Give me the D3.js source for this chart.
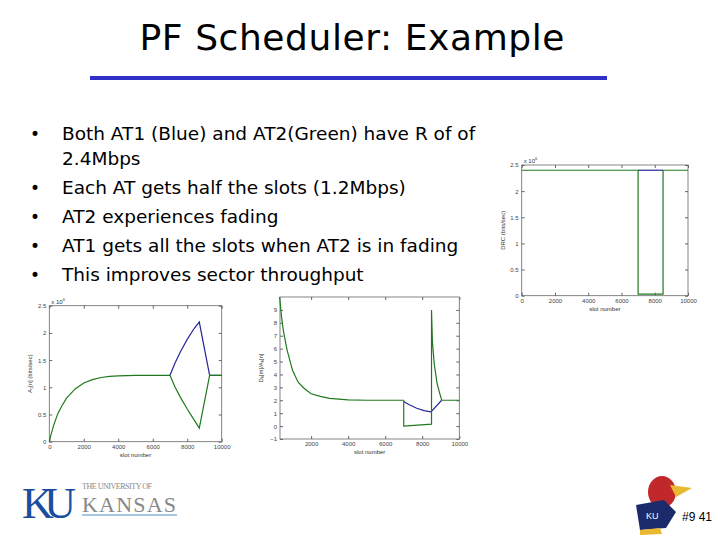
<!DOCTYPE html>
<html><head><meta charset="utf-8">
<script src="https://cdn.jsdelivr.net/npm/d3@7"></script>
<style>body{margin:0;background:#fff}svg{display:block}</style>
</head><body>
<svg id="slide" width="720" height="540"></svg>
<script>
// slide text
const bullets = [
  ["Both AT1 (Blue) and AT2(Green) have R of of", "2.4Mbps"],
  ["Each AT gets half the slots (1.2Mbps)"],
  ["AT2 experiences fading"],
  ["AT1 gets all the slots when AT2 is in fading"],
  ["This improves sector throughput"]
];
const xTicks = [0, 2000, 4000, 6000, 8000, 10000];

// plot 1: DRC (x10^6)
const drcGreen = [[0,2.4],[7000,2.4],[7000,0.03],[8500,0.03],[8500,2.4],[10000,2.4]];
const drcBlue = [[7000,2.4],[8500,2.4]];
// plot 2: average throughput A (x10^6)
const avgShared = [[0,0],[100,0.13],[250,0.3],[500,0.52],[750,0.67],[1000,0.8],[1500,0.97],[2000,1.08],[2500,1.14],[3000,1.18],[3500,1.2],[4000,1.21],[5000,1.22],[7000,1.22]];
const avgBlue = [[7000,1.22],[7300,1.45],[7600,1.65],[8000,1.88],[8400,2.08],[8700,2.2],[9300,1.22],[10000,1.22]];
const avgGreen = [[7000,1.22],[7300,1.0],[7600,0.82],[8000,0.6],[8400,0.4],[8700,0.25],[9300,1.22],[10000,1.22]];
// plot 3: D/A ratio
const ratioShared = [[300,10],[400,8.5],[500,7.4],[700,5.9],[1000,4.3],[1300,3.4],[1600,2.95],[2000,2.5],[2500,2.3],[3000,2.15],[4000,2.03],[5000,2.0],[7000,2.0]];
const ratioGreen = [[7000,2.0],[7000,0.0],[8500,0.15],[8500,9.0],[8550,6.5],[8650,4.8],[8800,3.3],[8950,2.5],[9050,2.0],[10000,2.0]];
const ratioBlue = [[7000,1.9],[7300,1.65],[7700,1.38],[8100,1.2],[8470,1.1],[9050,2.0]];

const svg = d3.select("#slide");
const GREEN = "#1f7a1f", BLUE = "#26269a", AX = "#666";

svg.append("text").attr("x", 352).attr("y", 50).attr("text-anchor", "middle")
  .style("font-family", "DejaVu Sans").style("font-size", "36px").attr("textLength", 425)
  .text("PF Scheduler: Example");
svg.append("line").attr("x1", 90).attr("x2", 607).attr("y1", 78).attr("y2", 78)
  .attr("stroke", "#3030c8").attr("stroke-width", 4);

let by = 140;
bullets.forEach(b => {
  svg.append("text").attr("x", 30).attr("y", by).style("font-size", "17px")
    .style("font-family", "DejaVu Sans").text("•");
  b.forEach(line => {
    svg.append("text").attr("x", 62).attr("y", by).style("font-size", "18.5px")
      .style("font-family", "DejaVu Sans").text(line);
    by += b.length > 1 && line === b[0] ? 25 : 29;
  });
});

function plot(o) {
  const x = d3.scaleLinear().domain(o.xd).range([o.x0, o.x1]);
  const y = d3.scaleLinear().domain(o.yd).range([o.y1, o.y0]);
  const g = svg.append("g").style("font-family", "Liberation Sans").style("font-size", "6px").attr("fill", "#333");
  g.append("rect").attr("x", o.x0).attr("y", o.y0).attr("width", o.x1 - o.x0).attr("height", o.y1 - o.y0)
    .attr("fill", "none").attr("stroke", AX).attr("stroke-width", 0.8);
  const xv = xTicks.filter(t => t >= o.xd[0]);
  const xa = g.append("g").attr("transform", `translate(0,${o.y1})`)
    .call(d3.axisBottom(x).tickValues(xv).tickSize(-3).tickPadding(3).tickFormat(d3.format("d")));
  const xt = g.append("g").attr("transform", `translate(0,${o.y0})`)
    .call(d3.axisTop(x).tickValues(xv).tickSize(-3).tickFormat(""));
  const ya = g.append("g").attr("transform", `translate(${o.x0},0)`)
    .call(d3.axisLeft(y).tickValues(o.yt).tickSize(-3).tickPadding(3).tickFormat(d3.format("")));
  const yr = g.append("g").attr("transform", `translate(${o.x1},0)`)
    .call(d3.axisRight(y).tickValues(o.yt).tickSize(-3).tickFormat(""));
  [xa, xt, ya, yr].forEach(a => {
    a.select(".domain").remove();
    a.selectAll("line").attr("stroke", AX);
    a.selectAll("text").attr("fill", "#444").style("font-size", "6px");
  });
  g.append("text").attr("x", (o.x0 + o.x1) / 2).attr("y", o.y1 + 15).attr("text-anchor", "middle").text("slot number");
  g.append("text").attr("transform", `translate(${o.x0 - 17},${(o.y0 + o.y1) / 2}) rotate(-90)`)
    .attr("text-anchor", "middle").text(o.ylab);
  if (o.exp) g.append("text").attr("x", o.x0 + 2).attr("y", o.y0 - 2).text("x 10").append("tspan")
    .attr("dy", -3).style("font-size", "4px").text("6");
  const line = d3.line().x(d => x(d[0])).y(d => y(d[1]));
  o.series.forEach(s => g.append("path").attr("d", line(s[0])).attr("fill", "none")
    .attr("stroke", s[1]).attr("stroke-width", 1.2));
}

plot({x0: 521.7, x1: 688, y0: 165, y1: 295.7, xd: [0, 10000], yd: [0, 2.5],
  yt: [0, 0.5, 1, 1.5, 2, 2.5], ylab: "DRC (bits/sec)", exp: true,
  series: [[drcBlue, BLUE], [drcGreen, GREEN]]});
plot({x0: 49.3, x1: 221.7, y0: 305.7, y1: 441.7, xd: [0, 10000], yd: [0, 2.5],
  yt: [0, 0.5, 1, 1.5, 2, 2.5], ylab: "A\u2081[n] (bits/sec)", exp: true,
  series: [[avgShared, GREEN], [avgBlue, BLUE], [avgGreen, GREEN]]});
plot({x0: 280, x1: 459.3, y0: 297, y1: 439, xd: [320, 10000], yd: [-1, 10],
  yt: [-1, 0, 1, 2, 3, 4, 5, 6, 7, 8, 9], ylab: "D\u2096[m]/A\u2096[n]", exp: false,
  series: [[ratioShared, GREEN], [ratioBlue, BLUE], [ratioGreen, GREEN]]});

// KU logo (text only)
const logo = svg.append("g");
logo.append("text").attr("x", 22).attr("y", 518).style("font-family", "Liberation Serif")
  .style("font-size", "44px").attr("fill", "#1a4fa0").attr("textLength", 54).text("KU");
logo.append("text").attr("x", 82).attr("y", 489).style("font-family", "Liberation Serif")
  .style("font-size", "8px").attr("fill", "#888").attr("textLength", 70).text("THE UNIVERSITY OF");
logo.append("text").attr("x", 82).attr("y", 512).style("font-family", "Liberation Serif")
  .style("font-size", "22px").attr("fill", "#888").attr("textLength", 94).text("KANSAS");
logo.append("line").attr("x1", 82).attr("x2", 177).attr("y1", 515).attr("y2", 515)
  .attr("stroke", "#4a90c0").attr("stroke-width", 1);

// jayhawk stand-in
const jh = svg.append("g");
jh.append("ellipse").attr("cx", 662).attr("cy", 492).attr("rx", 14).attr("ry", 16).attr("fill", "#c0282c");
jh.append("path").attr("d", "M670,485 L692,488 L676,497 Z").attr("fill", "#e8b830");
jh.append("path").attr("d", "M636,505 L664,500 L676,512 L666,528 L640,530 Z").attr("fill", "#1a2a6a");
jh.append("text").attr("x", 646).attr("y", 519).style("font-size", "9px").attr("fill", "#fff")
  .style("font-family", "Liberation Sans").text("KU");
jh.append("path").attr("d", "M640,530 L660,528 L662,534 L640,535 Z").attr("fill", "#e8b830");
svg.append("text").attr("x", 682).attr("y", 521).style("font-family", "Liberation Sans Narrow, Liberation Sans")
  .style("font-size", "12px").text("#9 41");
</script>
</body></html>
